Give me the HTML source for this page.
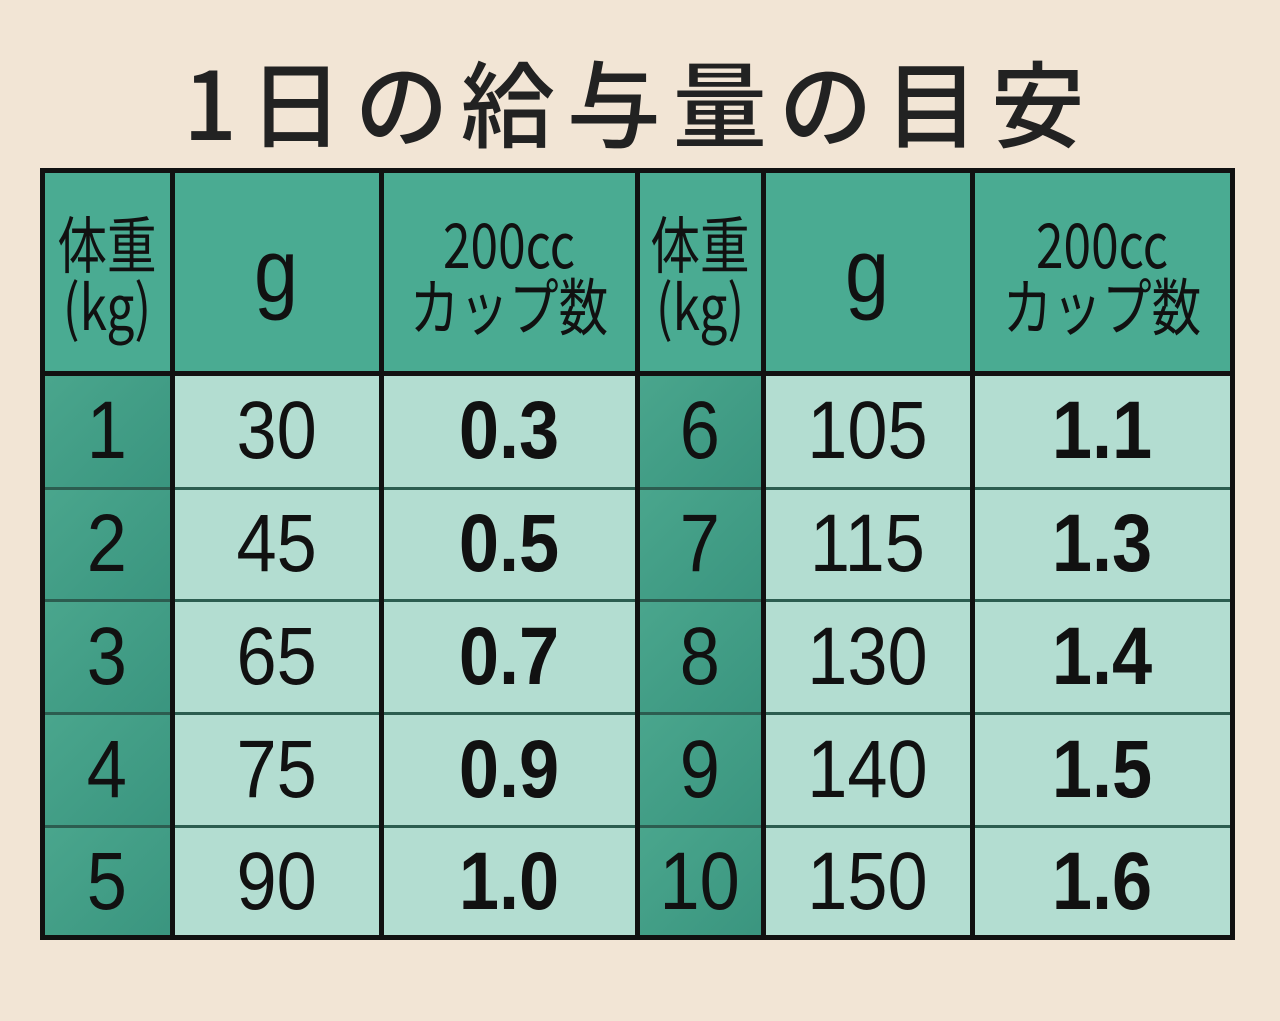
<!DOCTYPE html>
<html><head><meta charset="utf-8"><style>
body{margin:0;width:1280px;height:1021px;background:#f2e5d5;position:relative;overflow:hidden;font-family:"Liberation Sans","Noto Sans CJK JP",sans-serif;color:#111}
.t{position:absolute;left:0;width:1280px;top:40px;text-align:center;font-size:94px;font-weight:500;letter-spacing:12px;font-family:"Noto Sans CJK JP",sans-serif;color:#222;line-height:120px}
.c{position:absolute;display:flex;align-items:center;justify-content:center;text-align:center}
.c span{display:inline-block;transform:scaleX(0.88);line-height:1}
.k{background:linear-gradient(135deg,#4aa68d,#3a957f)}
.h{background:#4aab92}
.d{background:#b3ddd1}
.n{font-size:82px}
.b{font-weight:bold}
.v{position:absolute;background:#111;width:5px;top:168px;height:772px}
.hl{position:absolute;left:40px;width:1195px;height:3px;background:#2c5d50}
.hb{position:absolute;left:40px;width:1195px;height:5px;background:#111}
.hd{font-size:62px;line-height:1.12;font-family:'Noto Sans CJK JP',sans-serif}
.c span.hd{transform:scaleX(0.8)}
</style></head><body>
<div class="t">1日の給与量の目安</div>
<div class="c h" style="left:42px;top:170px;width:130px;height:203px"><span class="hd">体重<br>(kg)</span></div>
<div class="c h" style="left:172px;top:170px;width:209px;height:203px"><span style="font-size:90px">g</span></div>
<div class="c h" style="left:381px;top:170px;width:256px;height:203px"><span class="hd">200cc<br>カップ数</span></div>
<div class="c h" style="left:637px;top:170px;width:126px;height:203px"><span class="hd">体重<br>(kg)</span></div>
<div class="c h" style="left:763px;top:170px;width:209px;height:203px"><span style="font-size:90px">g</span></div>
<div class="c h" style="left:972px;top:170px;width:260px;height:203px"><span class="hd">200cc<br>カップ数</span></div>

<div class="c k n" style="left:42px;top:373px;width:130px;height:115px"><span>1</span></div>
<div class="c d n" style="left:172px;top:373px;width:209px;height:115px"><span>30</span></div>
<div class="c d n b" style="left:381px;top:373px;width:256px;height:115px"><span>0.3</span></div>
<div class="c k n" style="left:637px;top:373px;width:126px;height:115px"><span>6</span></div>
<div class="c d n" style="left:763px;top:373px;width:209px;height:115px"><span>105</span></div>
<div class="c d n b" style="left:972px;top:373px;width:260px;height:115px"><span>1.1</span></div>

<div class="c k n" style="left:42px;top:488px;width:130px;height:112px"><span>2</span></div>
<div class="c d n" style="left:172px;top:488px;width:209px;height:112px"><span>45</span></div>
<div class="c d n b" style="left:381px;top:488px;width:256px;height:112px"><span>0.5</span></div>
<div class="c k n" style="left:637px;top:488px;width:126px;height:112px"><span>7</span></div>
<div class="c d n" style="left:763px;top:488px;width:209px;height:112px"><span>115</span></div>
<div class="c d n b" style="left:972px;top:488px;width:260px;height:112px"><span>1.3</span></div>

<div class="c k n" style="left:42px;top:600px;width:130px;height:113px"><span>3</span></div>
<div class="c d n" style="left:172px;top:600px;width:209px;height:113px"><span>65</span></div>
<div class="c d n b" style="left:381px;top:600px;width:256px;height:113px"><span>0.7</span></div>
<div class="c k n" style="left:637px;top:600px;width:126px;height:113px"><span>8</span></div>
<div class="c d n" style="left:763px;top:600px;width:209px;height:113px"><span>130</span></div>
<div class="c d n b" style="left:972px;top:600px;width:260px;height:113px"><span>1.4</span></div>

<div class="c k n" style="left:42px;top:713px;width:130px;height:113px"><span>4</span></div>
<div class="c d n" style="left:172px;top:713px;width:209px;height:113px"><span>75</span></div>
<div class="c d n b" style="left:381px;top:713px;width:256px;height:113px"><span>0.9</span></div>
<div class="c k n" style="left:637px;top:713px;width:126px;height:113px"><span>9</span></div>
<div class="c d n" style="left:763px;top:713px;width:209px;height:113px"><span>140</span></div>
<div class="c d n b" style="left:972px;top:713px;width:260px;height:113px"><span>1.5</span></div>

<div class="c k n" style="left:42px;top:826px;width:130px;height:112px"><span>5</span></div>
<div class="c d n" style="left:172px;top:826px;width:209px;height:112px"><span>90</span></div>
<div class="c d n b" style="left:381px;top:826px;width:256px;height:112px"><span>1.0</span></div>
<div class="c k n" style="left:637px;top:826px;width:126px;height:112px"><span>10</span></div>
<div class="c d n" style="left:763px;top:826px;width:209px;height:112px"><span>150</span></div>
<div class="c d n b" style="left:972px;top:826px;width:260px;height:112px"><span>1.6</span></div>

<div class="hl" style="top:487px"></div>
<div class="hl" style="top:599px"></div>
<div class="hl" style="top:712px"></div>
<div class="hl" style="top:825px"></div>
<div class="hb" style="top:168px"></div>
<div class="hb" style="top:371px"></div>
<div class="hb" style="top:935px"></div>
<div class="v" style="left:40px"></div>
<div class="v" style="left:170px"></div>
<div class="v" style="left:379px"></div>
<div class="v" style="left:635px"></div>
<div class="v" style="left:761px"></div>
<div class="v" style="left:970px"></div>
<div class="v" style="left:1230px"></div>
</body></html>
